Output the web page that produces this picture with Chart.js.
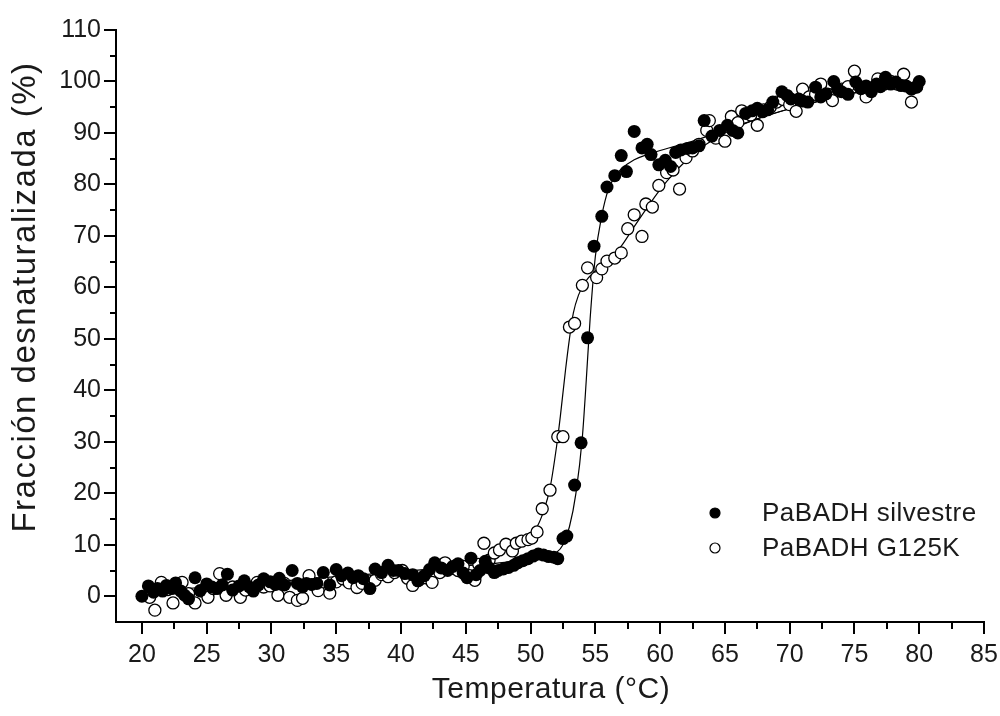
<!DOCTYPE html>
<html>
<head>
<meta charset="utf-8">
<script src="https://cdn.jsdelivr.net/npm/chart.js@4.4.0/dist/chart.umd.min.js"></script>
<style>
  html, body { margin: 0; padding: 0; background: #fff; }
  #wrap { width: 1000px; height: 716px; }
</style>
</head>
<body>
<div id="wrap"><canvas id="chart" width="1000" height="716"></canvas></div>
<script>
// PaBADH silvestre (filled points)
const tempSilvestre = [
  20.0, 20.5, 20.9, 21.2, 21.6, 21.9, 22.3, 22.6, 23.0, 23.3, 23.6, 24.1, 24.5, 25.0, 25.4, 25.8,
  26.2, 26.6, 27.0, 27.5, 27.9, 28.3, 28.6, 29.0, 29.4, 29.9, 30.3, 30.6, 31.0, 31.6, 32.0, 32.4,
  32.7, 33.1, 33.5, 34.0, 34.5, 35.0, 35.4, 35.9, 36.3, 36.7, 37.1, 37.6, 38.0, 38.5, 39.0, 39.4,
  39.8, 40.3, 40.9, 41.3, 41.8, 42.2, 42.6, 43.1, 43.6, 44.0, 44.4, 44.8, 45.1, 45.4, 45.8, 46.1,
  46.5, 46.8, 47.2, 47.5, 47.9, 48.3, 48.7, 49.0, 49.4, 49.8, 50.2, 50.6, 51.0, 51.4, 51.8, 52.1,
  52.5, 52.8, 53.4, 53.9, 54.4, 54.9, 55.5, 55.9, 56.5, 57.0, 57.4, 58.0, 58.6, 59.0, 59.3, 59.9,
  60.4, 60.8, 61.2, 61.6, 62.1, 62.5, 63.0, 63.4, 64.0, 64.6, 65.2, 65.6, 66.0, 66.6, 67.1, 67.5,
  67.9, 68.3, 68.7, 69.4, 69.8, 70.1, 70.7, 71.0, 71.4, 72.0, 72.4, 72.8, 73.4, 73.7, 74.0, 74.5,
  75.1, 75.5, 75.9, 76.3, 76.7, 77.0, 77.4, 77.8, 78.2, 78.6, 79.0, 79.4, 79.8, 80.0
];
const fracSilvestre = [
  0.0, 2.0, 0.8, 1.5, 1.0, 2.1, 1.5, 2.6, 1.0, 0.2, -0.5, 3.6, 1.1, 2.4, 1.8, 1.5,
  2.2, 4.3, 1.2, 2.0, 3.0, 1.8, 1.0, 2.2, 3.4, 2.8, 2.3, 3.5, 2.2, 5.0, 2.5, 1.8,
  2.5, 2.3, 2.5, 4.6, 2.2, 5.2, 4.0, 4.5, 3.6, 4.0, 3.4, 1.5, 5.3, 4.6, 6.0, 5.0,
  5.0, 4.4, 4.2, 3.0, 4.0, 5.2, 6.5, 5.5, 5.0, 5.8, 6.3, 4.5, 3.6, 7.4, 4.2, 5.0,
  6.8, 5.5, 4.6, 5.0, 5.3, 5.6, 6.0, 6.5, 6.9, 7.3, 7.8, 8.2, 8.0, 7.7, 7.6, 7.3,
  11.2, 11.7, 21.6, 29.8, 50.2, 68.0, 73.8, 79.5, 81.7, 85.6, 82.5, 90.3, 87.1, 87.8, 85.8, 83.8,
  84.7, 83.5, 86.2, 86.7, 87.0, 87.1, 87.5, 92.4, 89.4, 90.5, 91.5, 90.5, 90.0, 93.8, 94.3, 94.8,
  94.1, 94.5, 96.0, 98.0, 97.3, 96.6, 96.6, 96.2, 96.0, 98.9, 97.0, 97.6, 100.0, 98.5, 98.0, 97.5,
  99.9, 98.6, 99.1, 98.0, 99.5, 99.0, 100.8, 99.5, 99.9, 99.2, 99.1, 98.5, 98.9, 100.0
];

// PaBADH G125K (open points)
const tempG125K = [
  20.6, 21.0, 21.5, 22.0, 22.4, 22.8, 23.1, 23.6, 24.1, 24.6, 25.1, 25.5, 26.0, 26.5, 27.0, 27.6,
  28.0, 28.5, 28.9, 29.4, 29.9, 30.5, 31.0, 31.4, 32.0, 32.4, 32.9, 33.3, 33.6, 34.0, 34.5, 35.0,
  35.5, 36.0, 36.6, 37.0, 37.5, 38.0, 38.5, 39.0, 39.5, 40.1, 40.5, 40.9, 41.4, 41.9, 42.4, 43.0,
  43.4, 43.9, 44.4, 44.8, 45.3, 45.7, 46.0, 46.4, 46.8, 47.2, 47.6, 48.1, 48.6, 48.9, 49.3, 49.8,
  50.1, 50.5, 50.9, 51.5, 52.1, 52.5, 53.0, 53.4, 54.0, 54.4, 55.1, 55.5, 55.9, 56.5, 57.0, 57.5,
  58.0, 58.6, 58.9, 59.4, 59.9, 60.5, 61.0, 61.5, 62.0, 62.5, 63.0, 63.6, 63.8, 64.3, 65.0, 65.5,
  66.0, 66.3, 67.0, 67.5, 68.0, 68.5, 69.0, 69.5, 70.0, 70.5, 71.0, 71.5, 72.0, 72.4, 73.0, 73.3,
  74.0, 74.5, 75.0, 75.4, 75.9, 76.3, 76.8, 77.3, 77.8, 78.3, 78.8, 79.4, 79.8
];
const fracG125K = [
  -0.2, -2.7, 2.7, 1.3, -1.3, 1.5, 2.7, 0.5, -1.3, 1.0, -0.2, 1.5, 4.4, 0.2, 1.8, -0.2,
  1.2, 1.6, 2.7, 1.8, 2.0, 0.2, 2.5, -0.2, -0.8, -0.4, 4.0, 2.2, 1.1, 2.8, 0.6, 2.8,
  3.4, 2.6, 1.7, 2.5, 3.0, 3.1, 4.2, 3.8, 4.6, 5.0, 3.5, 2.1, 3.2, 3.6, 2.7, 4.6,
  6.5, 5.4, 5.0, 5.8, 4.0, 3.1, 6.2, 10.3, 7.0, 8.4, 9.0, 10.1, 8.8, 10.3, 10.7, 11.0,
  11.3, 12.5, 17.0, 20.6, 31.0, 31.0, 52.3, 53.0, 60.4, 63.8, 61.9, 63.6, 65.1, 65.7, 66.7, 71.4,
  74.1, 69.9, 76.2, 75.6, 79.8, 82.3, 82.8, 79.1, 85.2, 86.5, 87.8, 90.5, 92.4, 89.0, 88.4, 93.2,
  92.0, 94.3, 93.5, 91.5, 94.5, 95.0, 96.0, 96.5, 95.5, 94.2, 98.5, 97.0, 97.5, 99.5, 97.5, 96.3,
  98.5, 99.0, 102.0, 99.0, 97.0, 98.5, 100.5, 99.5, 100.0, 99.5, 101.4, 96.0, 99.0
];

// fitted curves
const fitTempSilvestre = [20, 25, 30, 35, 40, 45, 48, 50, 51, 52, 52.5, 53, 53.5, 54, 54.3, 54.6, 55,
  55.5, 56, 56.5, 57, 58, 59, 60, 61, 62, 63, 65, 67, 70, 72, 75, 78, 80];
const fitFracSilvestre = [0.8, 1.8, 2.8, 3.8, 4.8, 5.9, 6.6, 7.3, 7.7, 8.5, 10, 13.5, 20, 31, 42, 54, 66,
  74, 79, 81.5, 83, 84.8, 85.8, 86.6, 87.3, 88, 88.8, 90.5, 92.3, 94.7, 96, 97.8, 99.2, 100];
const fitTempG125K = [20, 25, 30, 35, 40, 43, 45, 46, 47, 48, 49, 50, 50.5, 51, 51.5, 52, 52.3, 52.7,
  53, 53.3, 53.7, 54.2, 55, 56, 57, 58, 59, 60, 61, 62, 63, 64, 65, 67, 70, 75, 80];
const fitFracG125K = [0.5, 1.2, 2.0, 3.0, 4.0, 5.0, 6.2, 7.0, 8.0, 9.2, 10.4, 12.0, 13.5, 16.5, 21, 29, 35, 44,
  50, 55, 58.5, 61, 63.2, 65.2, 68, 71.8, 75.5, 79, 82, 84.6, 86.8, 88.5, 90, 92.3, 94.7, 97.8, 100];

const seriesNames = ['PaBADH silvestre', 'PaBADH G125K'];
const xTitle = 'Temperatura (°C)';
const yTitle = 'Fracción desnaturalizada (%)';

const toPoints = (xs, ys) => xs.map((x, i) => ({ x: x, y: ys[i] }));
const FONT = "'Liberation Sans', Arial, sans-serif";
const INK = '#1a1a1a';

// axis tick marks (major + minor), titles and the in-plot legend
const decorations = {
  id: 'decorations',
  afterDraw(chart) {
    const ctx = chart.ctx;
    const xs = chart.scales.x, ys = chart.scales.y;
    const area = chart.chartArea;
    ctx.save();
    ctx.strokeStyle = '#000';
    ctx.lineWidth = 2;
    ctx.beginPath();
    for (let v = 20; v <= 85; v += 2.5) {
      const px = Math.round(xs.getPixelForValue(v));
      const len = v % 5 === 0 ? 12 : 7;
      ctx.moveTo(px, area.bottom);
      ctx.lineTo(px, area.bottom + len);
    }
    for (let v = 0; v <= 110; v += 5) {
      const py = Math.round(ys.getPixelForValue(v));
      const len = v % 10 === 0 ? 12 : 6;
      ctx.moveTo(area.left, py);
      ctx.lineTo(area.left - len, py);
    }
    ctx.stroke();

    // titles
    ctx.fillStyle = INK;
    ctx.textAlign = 'center';
    ctx.textBaseline = 'middle';
    ctx.font = '30px ' + FONT;
    ctx.letterSpacing = '0.5px';
    ctx.fillText(xTitle, (area.left + area.right) / 2 + 1, 690);
    ctx.save();
    ctx.translate(26, 297);
    ctx.rotate(-Math.PI / 2);
    ctx.font = '33px ' + FONT;
    ctx.letterSpacing = '1.5px';
    ctx.fillText(yTitle, 0, 0);
    ctx.restore();

    // legend
    const lx = 715, rows = [513, 548];
    ctx.font = '26px ' + FONT;
    ctx.letterSpacing = '0.5px';
    ctx.textAlign = 'left';
    rows.forEach((ry, i) => {
      ctx.beginPath();
      ctx.arc(lx, ry, 5, 0, Math.PI * 2);
      ctx.fillStyle = i === 0 ? '#000' : '#fff';
      ctx.fill();
      ctx.lineWidth = 1.2;
      ctx.strokeStyle = '#000';
      ctx.stroke();
      ctx.fillStyle = INK;
      ctx.fillText(seriesNames[i], 762, ry + 1);
    });
    ctx.restore();
  }
};

new Chart(document.getElementById('chart'), {
  type: 'scatter',
  data: {
    datasets: [
      {
        label: seriesNames[0],
        data: toPoints(tempSilvestre, fracSilvestre),
        pointRadius: 6.5,
        backgroundColor: '#000',
        borderColor: '#000',
        borderWidth: 0,
        order: 0
      },
      {
        label: seriesNames[1],
        data: toPoints(tempG125K, fracG125K),
        pointRadius: 6,
        backgroundColor: '#fff',
        borderColor: '#000',
        borderWidth: 1.3,
        order: 1
      },
      {
        label: 'fit silvestre',
        data: toPoints(fitTempSilvestre, fitFracSilvestre),
        showLine: true,
        pointRadius: 0,
        borderColor: '#000',
        borderWidth: 1.2,
        cubicInterpolationMode: 'monotone',
        order: 2
      },
      {
        label: 'fit G125K',
        data: toPoints(fitTempG125K, fitFracG125K),
        showLine: true,
        pointRadius: 0,
        borderColor: '#000',
        borderWidth: 1.2,
        cubicInterpolationMode: 'monotone',
        order: 3
      }
    ]
  },
  options: {
    responsive: false,
    animation: false,
    layout: { padding: { left: 0, right: 0, top: 20, bottom: 0 } },
    plugins: { legend: { display: false }, tooltip: { enabled: false } },
    scales: {
      x: {
        type: 'linear',
        min: 18,
        max: 85,
        afterFit(s) { s.height = 94; s.paddingRight = 16; },
        grid: { display: false, drawTicks: false },
        border: { display: true, color: '#000', width: 2 },
        ticks: { stepSize: 5, includeBounds: false, padding: 18, color: INK, font: { family: FONT, size: 25 } }
      },
      y: {
        type: 'linear',
        min: -5,
        max: 110,
        afterFit(s) { s.width = 116; },
        grid: { display: false, drawTicks: false },
        border: { display: true, color: '#000', width: 2 },
        ticks: { stepSize: 10, includeBounds: false, padding: 15, color: INK, font: { family: FONT, size: 25 } }
      }
    }
  },
  plugins: [decorations]
});
</script>
</body>
</html>
